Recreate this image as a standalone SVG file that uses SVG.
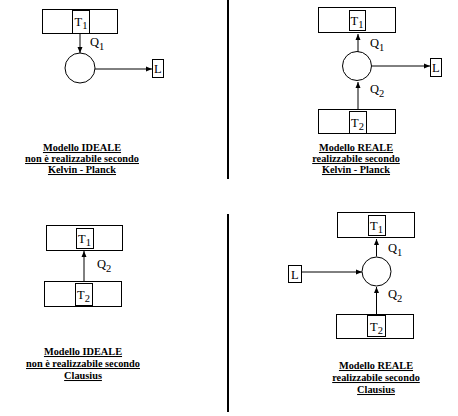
<svg xmlns="http://www.w3.org/2000/svg" width="458" height="416" viewBox="0 0 458 416">
<style>
.box{fill:#fff;stroke:#000;stroke-width:1}
.ln{fill:none;stroke:#000;stroke-width:1}
.div{stroke:#000;stroke-width:2}
.sym{font-family:"Liberation Serif","DejaVu Serif",serif;font-size:12.5px;fill:#000}
.sub{font-size:10.5px}
.cap{font-family:"Liberation Serif","DejaVu Serif",serif;font-size:10.3px;font-weight:bold;text-decoration:underline;text-anchor:middle;fill:#000}
</style>
<defs>
<marker id="ah" markerWidth="6" markerHeight="6" refX="6" refY="3" orient="auto" markerUnits="userSpaceOnUse">
<path d="M0,0.5 L6,3 L0,5.5 z" fill="#000"/>
</marker>
</defs>

<g id="connectors">
<line class="ln" x1="80" y1="33" x2="80" y2="53" marker-end="url(#ah)"/>
<line class="ln" x1="95" y1="69" x2="152" y2="69" marker-end="url(#ah)"/>
<line class="ln" x1="358" y1="52" x2="358" y2="34" marker-end="url(#ah)"/>
<line class="ln" x1="372" y1="66" x2="430" y2="66" marker-end="url(#ah)"/>
<line class="ln" x1="358" y1="109" x2="358" y2="82" marker-end="url(#ah)"/>
<line class="ln" x1="84" y1="281" x2="84" y2="251" marker-end="url(#ah)"/>
<line class="ln" x1="376.5" y1="256.5" x2="376.5" y2="239" marker-end="url(#ah)"/>
<line class="ln" x1="302" y1="272" x2="362" y2="272" marker-end="url(#ah)"/>
<line class="ln" x1="376.5" y1="314" x2="376.5" y2="287" marker-end="url(#ah)"/>
</g>

<g id="dividers">
<line class="div" x1="228" y1="0" x2="228" y2="179"/>
<line class="div" x1="228" y1="214" x2="228" y2="412"/>
</g>

<!-- Panel 1 -->
<g id="p1-T1">
<rect class="box" x="42.5" y="9.5" width="75" height="24"/>
<rect class="box" x="72.5" y="10.5" width="17" height="23"/>
<text class="sym" x="74.5" y="26">T<tspan class="sub" dy="3">1</tspan></text>
</g>
<g id="p1-engine"><circle class="ln" cx="80" cy="68" r="15"/></g>
<g id="p1-Q1"><text class="sym" x="90" y="46">Q<tspan class="sub" dy="4">1</tspan></text></g>
<g id="p1-L">
<rect class="box" x="152.5" y="59.5" width="11" height="18"/>
<text class="sym" x="154" y="73">L</text>
</g>
<g id="p1-caption">
<text class="cap" x="82" y="151">Modello IDEALE</text>
<text class="cap" x="82" y="162">non è realizzabile secondo</text>
<text class="cap" x="82" y="173">Kelvin - Planck</text>
</g>

<!-- Panel 2 -->
<g id="p2-T1">
<rect class="box" x="318.5" y="7.5" width="77" height="25"/>
<rect class="box" x="349.5" y="10.5" width="16" height="20"/>
<text class="sym" x="350.5" y="25">T<tspan class="sub" dy="3">1</tspan></text>
</g>
<g id="p2-engine"><circle class="ln" cx="357" cy="66" r="14.5"/></g>
<g id="p2-Q1"><text class="sym" x="370" y="47">Q<tspan class="sub" dy="4">1</tspan></text></g>
<g id="p2-L">
<rect class="box" x="430.5" y="58.5" width="11" height="18"/>
<text class="sym" x="432" y="72">L</text>
</g>
<g id="p2-Q2"><text class="sym" x="370" y="93">Q<tspan class="sub" dy="4">2</tspan></text></g>
<g id="p2-T2">
<rect class="box" x="318.5" y="109.5" width="77" height="24"/>
<rect class="box" x="349.5" y="111.5" width="17" height="22"/>
<text class="sym" x="351" y="127">T<tspan class="sub" dy="3">2</tspan></text>
</g>
<g id="p2-caption">
<text class="cap" x="356" y="151">Modello REALE</text>
<text class="cap" x="356" y="162">realizzabile secondo</text>
<text class="cap" x="356" y="173">Kelvin - Planck</text>
</g>

<!-- Panel 3 -->
<g id="p3-T1">
<rect class="box" x="46.5" y="225.5" width="76" height="25"/>
<rect class="box" x="76.5" y="228.5" width="17" height="20"/>
<text class="sym" x="78" y="243">T<tspan class="sub" dy="3">1</tspan></text>
</g>
<g id="p3-Q2"><text class="sym" x="97" y="268">Q<tspan class="sub" dy="4">2</tspan></text></g>
<g id="p3-T2">
<rect class="box" x="44.5" y="281.5" width="77" height="25"/>
<rect class="box" x="75.5" y="283.5" width="17" height="22"/>
<text class="sym" x="77" y="299">T<tspan class="sub" dy="3">2</tspan></text>
</g>
<g id="p3-caption">
<text class="cap" x="83" y="355">Modello IDEALE</text>
<text class="cap" x="83" y="367">non è realizzabile secondo</text>
<text class="cap" x="83" y="379">Clausius</text>
</g>

<!-- Panel 4 -->
<g id="p4-T1">
<rect class="box" x="337.5" y="212.5" width="77" height="25"/>
<rect class="box" x="368.5" y="215.5" width="17" height="20"/>
<text class="sym" x="370" y="230">T<tspan class="sub" dy="3">1</tspan></text>
</g>
<g id="p4-engine"><circle class="ln" cx="376.5" cy="271.5" r="14.5"/></g>
<g id="p4-Q1"><text class="sym" x="388" y="252">Q<tspan class="sub" dy="4">1</tspan></text></g>
<g id="p4-L">
<rect class="box" x="288.5" y="265.5" width="13" height="17"/>
<text class="sym" x="291" y="279">L</text>
</g>
<g id="p4-Q2"><text class="sym" x="388" y="298">Q<tspan class="sub" dy="4">2</tspan></text></g>
<g id="p4-T2">
<rect class="box" x="336.5" y="314.5" width="77" height="24"/>
<rect class="box" x="367.5" y="315.5" width="18" height="21"/>
<text class="sym" x="370" y="331">T<tspan class="sub" dy="3">2</tspan></text>
</g>
<g id="p4-caption">
<text class="cap" x="376" y="369">Modello REALE</text>
<text class="cap" x="376" y="381">realizzabile secondo</text>
<text class="cap" x="376" y="393">Clausius</text>
</g>
</svg>
